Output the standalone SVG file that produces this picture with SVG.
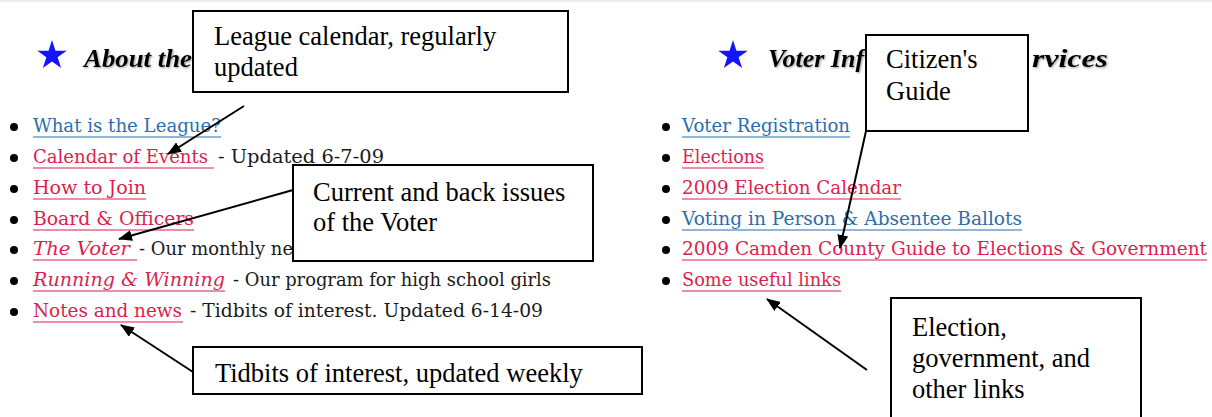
<svg xmlns="http://www.w3.org/2000/svg" width="1212" height="417" viewBox="0 0 1212 417">
<style>
.li{font-family:"DejaVu Serif","Liberation Serif",serif;font-size:18px}
.bl{fill:#2a6eae}
.rd{fill:#dc1f4f}
.tx{fill:#1a1a1a}
.it{font-style:italic}
.ulb{stroke:#2a6eae;stroke-width:1.2}
.ulr{stroke:#dc1f4f;stroke-width:1.2}
.hd{font-family:"Liberation Serif","Times New Roman",serif;font-size:26px;font-weight:bold;font-style:italic;fill:#000}
.box{fill:#fff;stroke:#000;stroke-width:2}
.bt{font-family:"Liberation Serif","Times New Roman",serif;font-size:26.5px;fill:#000}
.con{stroke:#000;stroke-width:2;fill:none;marker-end:url(#ah)}
</style>
<defs>
<marker id="ah" markerWidth="14" markerHeight="11" refX="13" refY="5.5" orient="auto" markerUnits="userSpaceOnUse"><path d="M0,0 L14,5.5 L0,11 z" fill="#000"/></marker>
<polygon id="star" points="0,-15.5 3.48,-4.79 14.74,-4.79 5.63,1.83 9.11,12.54 0,5.92 -9.11,12.54 -5.63,1.83 -14.74,-4.79 -3.48,-4.79" fill="#1414ff"/>
<filter id="sh" x="-5%" y="-20%" width="110%" height="140%"><feDropShadow dx="1" dy="1" stdDeviation="0.9" flood-color="#555" flood-opacity="0.6"/></filter>
</defs>
<rect x="0" y="0" width="1212" height="2" fill="#ececec"/>

<g id="page-left">
<use href="#star" x="52" y="55.5"/>
<text class="hd" x="84" y="67" filter="url(#sh)" textLength="108" lengthAdjust="spacingAndGlyphs">About the</text>
<g fill="#000">
<circle cx="14" cy="127" r="4"/><circle cx="14" cy="158" r="4"/><circle cx="14" cy="189" r="4"/><circle cx="14" cy="220" r="4"/><circle cx="14" cy="250" r="4"/><circle cx="14" cy="281" r="4"/><circle cx="14" cy="312" r="4"/>
</g>
<text class="li bl" x="33" y="132" textLength="188" lengthAdjust="spacingAndGlyphs">What is the League?</text>
<line class="ulb" x1="33" y1="137" x2="221" y2="137"/>
<text class="li rd" x="33" y="163" textLength="175" lengthAdjust="spacingAndGlyphs">Calendar of Events</text>
<line class="ulr" x1="33" y1="168" x2="214" y2="168"/>
<text class="li tx" x="218" y="163" textLength="166" lengthAdjust="spacingAndGlyphs">- Updated 6-7-09</text>
<text class="li rd" x="33" y="194" textLength="113" lengthAdjust="spacingAndGlyphs">How to Join</text>
<line class="ulr" x1="33" y1="199" x2="146" y2="199"/>
<text class="li rd" x="33" y="225" textLength="161" lengthAdjust="spacingAndGlyphs">Board &amp; Officers</text>
<line class="ulr" x1="33" y1="230" x2="194" y2="230"/>
<text class="li rd it" x="33" y="255" textLength="97" lengthAdjust="spacingAndGlyphs">The Voter</text>
<line class="ulr" x1="33" y1="260" x2="137" y2="260"/>
<text class="li tx" x="139" y="255" textLength="154" lengthAdjust="spacingAndGlyphs">- Our monthly ne</text>
<text class="li rd it" x="33" y="286" textLength="192" lengthAdjust="spacingAndGlyphs">Running &amp; Winning</text>
<line class="ulr" x1="33" y1="291" x2="225" y2="291"/>
<text class="li tx" x="233" y="286" textLength="318" lengthAdjust="spacingAndGlyphs">- Our program for high school girls</text>
<text class="li rd" x="33" y="317" textLength="149" lengthAdjust="spacingAndGlyphs">Notes and news</text>
<line class="ulr" x1="33" y1="322" x2="183" y2="322"/>
<text class="li tx" x="190" y="317" textLength="353" lengthAdjust="spacingAndGlyphs">- Tidbits of interest. Updated 6-14-09</text>
</g>

<g id="page-right">
<use href="#star" x="733" y="55.5"/>
<text class="hd" x="768" y="67" filter="url(#sh)">Voter Inf</text>
<text class="hd" x="1032" y="67" filter="url(#sh)" textLength="76" lengthAdjust="spacingAndGlyphs">rvices</text>
<g fill="#000">
<circle cx="666" cy="127" r="4"/><circle cx="666" cy="158" r="4"/><circle cx="666" cy="189" r="4"/><circle cx="666" cy="220" r="4"/><circle cx="666" cy="250" r="4"/><circle cx="666" cy="281" r="4"/>
</g>
<text class="li bl" x="682" y="132" textLength="168" lengthAdjust="spacingAndGlyphs">Voter Registration</text>
<line class="ulb" x1="682" y1="137" x2="850" y2="137"/>
<text class="li rd" x="682" y="163" textLength="82" lengthAdjust="spacingAndGlyphs">Elections</text>
<line class="ulr" x1="682" y1="168" x2="764" y2="168"/>
<text class="li rd" x="682" y="194" textLength="219" lengthAdjust="spacingAndGlyphs">2009 Election Calendar</text>
<line class="ulr" x1="682" y1="199" x2="901" y2="199"/>
<text class="li bl" x="682" y="225" textLength="340" lengthAdjust="spacingAndGlyphs">Voting in Person &amp; Absentee Ballots</text>
<line class="ulb" x1="682" y1="230" x2="1022" y2="230"/>
<text class="li rd" x="682" y="255" textLength="525" lengthAdjust="spacingAndGlyphs">2009 Camden County Guide to Elections &amp; Government</text>
<line class="ulr" x1="682" y1="260" x2="1207" y2="260"/>
<text class="li rd" x="682" y="286" textLength="159" lengthAdjust="spacingAndGlyphs">Some useful links</text>
<line class="ulr" x1="682" y1="291" x2="841" y2="291"/>
</g>

<g id="connectors">
<line class="con" x1="244" y1="106" x2="168" y2="154"/>
<line class="con" x1="293" y1="190" x2="119" y2="239"/>
<line class="con" x1="193" y1="372" x2="121" y2="325"/>
<line class="con" x1="866" y1="131" x2="840" y2="248"/>
<line class="con" x1="867" y1="370" x2="767" y2="299"/>
</g>

<g id="callout-league-calendar">
<rect class="box" x="193" y="11" width="375" height="81"/>
<text class="bt" x="214" y="45">League calendar, regularly</text>
<text class="bt" x="214" y="76">updated</text>
</g>
<g id="callout-voter">
<rect class="box" x="293" y="165" width="300" height="96"/>
<text class="bt" x="313" y="201">Current and back issues</text>
<text class="bt" x="313" y="231">of the Voter</text>
</g>
<g id="callout-tidbits">
<rect class="box" x="193" y="347" width="449" height="47"/>
<text class="bt" x="215" y="382">Tidbits of interest, updated weekly</text>
</g>
<g id="callout-citizens-guide">
<rect class="box" x="866" y="35" width="162" height="96"/>
<text class="bt" x="886" y="68">Citizen's</text>
<text class="bt" x="886" y="100">Guide</text>
</g>
<g id="callout-links">
<rect class="box" x="891" y="298" width="250" height="130"/>
<text class="bt" x="912" y="336">Election,</text>
<text class="bt" x="912" y="367">government, and</text>
<text class="bt" x="912" y="398">other links</text>
</g>
</svg>
